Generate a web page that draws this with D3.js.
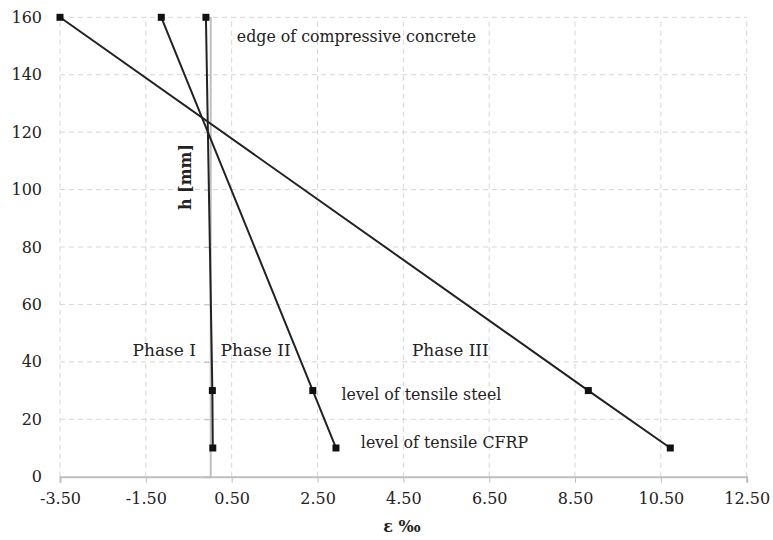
<!DOCTYPE html>
<html>
<head>
<meta charset="utf-8">
<script src="https://cdn.jsdelivr.net/npm/d3@7"></script>
<style>
  html, body { margin: 0; padding: 0; background: #fff; }
  svg { display: block; }
  text { font-family: "DejaVu Serif", serif; fill: #222; }
</style>
</head>
<body>
<svg id="chart" width="773" height="540"></svg>
<script>
// ---- data ----
const heights = [160, 30, 10];             // h [mm]
const phaseI   = [-0.10, 0.05, 0.06];      // strain ‰
const phaseII  = [-1.14, 2.39, 2.93];
const phaseIII = [-3.50, 8.81, 10.72];
const xTicks = [-3.5, -1.5, 0.5, 2.5, 4.5, 6.5, 8.5, 10.5, 12.5];
const yTicks = [0, 20, 40, 60, 80, 100, 120, 140, 160];
const annotations = [
  { text: "edge of compressive concrete", x: 0.62,  y: 151.5, size: 15.8 },
  { text: "Phase I",                       x: -1.81, y: 42.0,  size: 17 },
  { text: "Phase II",                      x: 0.24,  y: 42.0,  size: 17 },
  { text: "Phase III",                     x: 4.70,  y: 42.0,  size: 17 },
  { text: "level of tensile steel",        x: 3.06,  y: 26.8,  size: 15.8 },
  { text: "level of tensile CFRP",         x: 3.51,  y: 10.0,  size: 15.8 }
];

// ---- chart ----
const svg = d3.select("#chart");
const x = d3.scaleLinear().domain([-3.5, 12.5]).range([60, 746.7]);
const y = d3.scaleLinear().domain([0, 160]).range([476.7, 17.3]);

const grid = svg.append("g");
grid.selectAll("line.v").data(xTicks).join("line")
  .attr("x1", d => x(d)).attr("x2", d => x(d))
  .attr("y1", y(0)).attr("y2", y(160))
  .attr("stroke", "#d6d6d6").attr("stroke-width", 1).attr("stroke-dasharray", "5,4");
grid.selectAll("line.h").data(yTicks.filter(d => d > 0)).join("line")
  .attr("x1", x(-3.5)).attr("x2", x(12.5))
  .attr("y1", d => y(d)).attr("y2", d => y(d))
  .attr("stroke", "#d6d6d6").attr("stroke-width", 1).attr("stroke-dasharray", "5,4");

// x axis at h = 0
const fmt2 = d => d3.format(".2f")(d).replace("\u2212", "-");
const xAxis = d3.axisBottom(x).tickValues(xTicks).tickFormat(fmt2).tickSize(6).tickPadding(10);
const gx = svg.append("g").attr("transform", `translate(0,${y(0)})`).call(xAxis);
gx.select(".domain").attr("stroke", "#bfbfbf").attr("stroke-width", 2);
gx.selectAll(".tick line").attr("stroke", "#bfbfbf").attr("stroke-width", 1);
gx.selectAll(".tick text").attr("font-size", 16).attr("fill", "#222").attr("font-family", "DejaVu Serif");

// y axis at strain = 0, labels at left edge
const yAxis = d3.axisLeft(y).tickValues(yTicks).tickSize(6).tickFormat(d3.format("d"));
const gy = svg.append("g").attr("transform", `translate(${x(0)},0)`).call(yAxis);
gy.select(".domain").attr("stroke", "#bfbfbf").attr("stroke-width", 2);
gy.selectAll(".tick line").attr("stroke", "#bfbfbf").attr("stroke-width", 1);
gy.selectAll(".tick text").attr("font-size", 16).attr("fill", "#222").attr("font-family", "DejaVu Serif")
  .attr("x", 42 - x(0)).attr("text-anchor", "end");

// series
const series = [phaseI, phaseII, phaseIII];
const line = d3.line().x(d => x(d[0])).y(d => y(d[1]));
series.forEach(s => {
  const pts = s.map((v, i) => [v, heights[i]]);
  svg.append("path").datum(pts).attr("d", line)
    .attr("fill", "none").attr("stroke", "#222").attr("stroke-width", 2);
  svg.selectAll(null).data(pts).join("rect")
    .attr("x", d => x(d[0]) - 3.5).attr("y", d => y(d[1]) - 3.5)
    .attr("width", 7).attr("height", 7).attr("fill", "#111");
});

// annotations
svg.selectAll("text.ann").data(annotations).join("text")
  .attr("class", "ann")
  .attr("x", d => x(d.x)).attr("y", d => y(d.y))
  .attr("font-size", d => d.size)
  .text(d => d.text);

// axis titles
svg.append("text").attr("x", 402).attr("y", 532).attr("text-anchor", "middle")
  .attr("font-size", 16).attr("font-weight", "bold").text("ε ‰");
svg.append("text").attr("transform", `translate(191,177) rotate(-90)`).attr("text-anchor", "middle")
  .attr("font-size", 16).attr("font-weight", "bold").text("h [mm]");
</script>
</body>
</html>
